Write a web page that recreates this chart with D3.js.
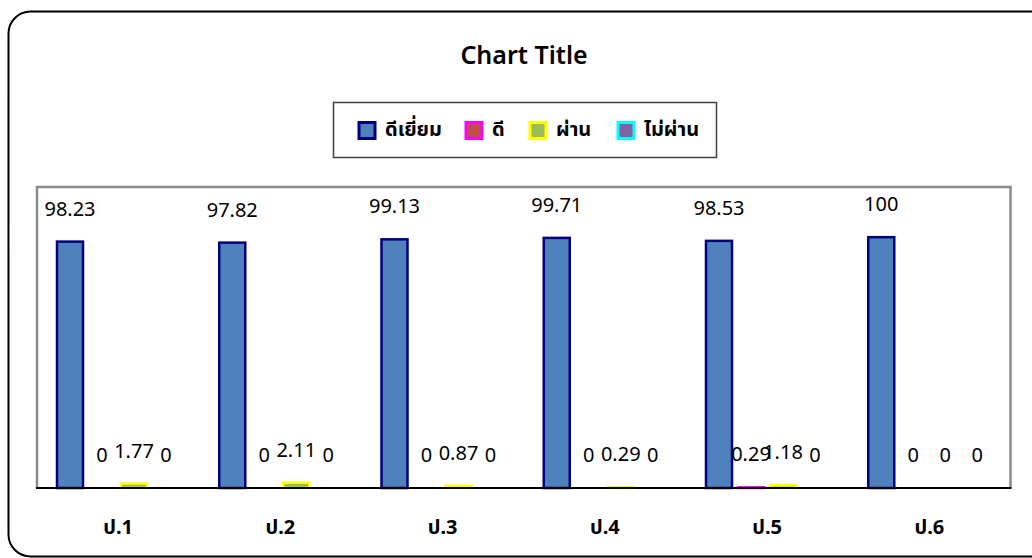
<!DOCTYPE html>
<html>
<head>
<meta charset="utf-8">
<script src="https://cdn.jsdelivr.net/npm/d3@7"></script>
<style>
    body { margin: 0; background: #fff; }
    svg { display: block; font-family: 'Noto Sans', 'Noto Sans Thai', 'DejaVu Sans', sans-serif; }
</style>
</head>
<body>
<div class="container"></div>
<script>
// chart values
const categories = ['ป.1', 'ป.2', 'ป.3', 'ป.4', 'ป.5', 'ป.6'];
const seriesNames = ['ดีเยี่ยม', 'ดี', 'ผ่าน', 'ไม่ผ่าน'];
const excellent = [98.23, 97.82, 99.13, 99.71, 98.53, 100];
const good = [0, 0, 0, 0, 0.29, 0];
const passed = [1.77, 2.11, 0.87, 0.29, 1.18, 0];
const failed = [0, 0, 0, 0, 0, 0];

const fills = ['#4F81BD', '#C0504D', '#9BBB59', '#8064A2'];
const strokes = ['#000080', '#FF00FF', '#FFFF00', '#00FFFF'];

const width = 1032;
const height = 558;

const svg = d3.select('.container').append('svg').attr('width', width).attr('height', height);

// outer rounded frame (runs off the right edge like the original)
svg.append('rect')
    .attr('x', 8.5).attr('y', 11.5)
    .attr('width', 1050).attr('height', 545)
    .attr('rx', 22).attr('ry', 22)
    .attr('fill', '#fff').attr('stroke', '#000').attr('stroke-width', 2);

svg.append('text')
    .attr('x', 524).attr('y', 64)
    .attr('text-anchor', 'middle')
    .attr('font-size', 25).attr('font-weight', 600)
    .text('Chart Title');

// legend
const legend = svg.append('g');
legend.append('rect')
    .attr('x', 333.5).attr('y', 102.5).attr('width', 383).attr('height', 55)
    .attr('fill', '#fff').attr('stroke', '#404040').attr('stroke-width', 1.5);

const legendX = [358, 465, 529, 617];
seriesNames.forEach((name, i) => {
    legend.append('rect')
        .attr('x', legendX[i] + 1).attr('y', 122.5).attr('width', 16).attr('height', 16)
        .attr('fill', fills[i]).attr('stroke', strokes[i]).attr('stroke-width', 3);
    legend.append('text')
        .attr('x', legendX[i] + 27).attr('y', 136)
        .attr('font-size', 20).attr('font-weight', 'bold')
        .text(name);
});

// plot area
const plotLeft = 37, plotRight = 1010.5, plotTop = 187, plotBottom = 488;

const x0 = d3.scaleBand().domain(categories).range([plotLeft, plotRight]).padding(0);
const x1 = d3.scaleBand().domain(seriesNames).range([20, 142]).paddingInner(0.1875).paddingOuter(0);
const y = d3.scaleLinear().domain([0, 120]).range([plotBottom, plotTop]);

svg.append('path')
    .attr('d', `M${plotLeft},${plotBottom}V${plotTop}H${plotRight}V${plotBottom}`)
    .attr('fill', 'none').attr('stroke', '#8a8a8a').attr('stroke-width', 2.5);

const allSeries = [excellent, good, passed, failed];
const rows = [];
categories.forEach((c, ci) => {
    seriesNames.forEach((s, si) => {
        rows.push({ cat: c, series: s, si: si, value: allSeries[si][ci] });
    });
});

const groups = svg.append('g');

groups.selectAll('rect.bar').data(rows.filter(d => d.value > 0)).enter().append('rect')
    .attr('class', 'bar')
    .attr('x', d => x0(d.cat) + x1(d.series))
    .attr('y', d => y(d.value))
    .attr('width', x1.bandwidth())
    .attr('height', d => plotBottom - y(d.value))
    .attr('fill', d => fills[d.si])
    .attr('stroke', d => strokes[d.si])
    .attr('stroke-width', 2.5);

svg.append('line')
    .attr('x1', plotLeft - 1).attr('x2', plotRight + 1)
    .attr('y1', plotBottom).attr('y2', plotBottom)
    .attr('stroke', '#000').attr('stroke-width', 2);

// value labels
groups.selectAll('text.val').data(rows).enter().append('text')
    .attr('class', 'val')
    .attr('x', d => x0(d.cat) + x1(d.series) + x1.bandwidth() / 2)
    .attr('y', d => y(d.value) - 26)
    .attr('text-anchor', 'middle')
    .attr('font-size', 20)
    .text(d => d.value);

// category labels
svg.selectAll('text.cat').data(categories).enter().append('text')
    .attr('class', 'cat')
    .attr('x', d => x0(d) + x0.bandwidth() / 2)
    .attr('y', 534)
    .attr('text-anchor', 'middle')
    .attr('font-size', 20).attr('font-weight', 'bold')
    .text(d => d);
</script>
</body>
</html>
